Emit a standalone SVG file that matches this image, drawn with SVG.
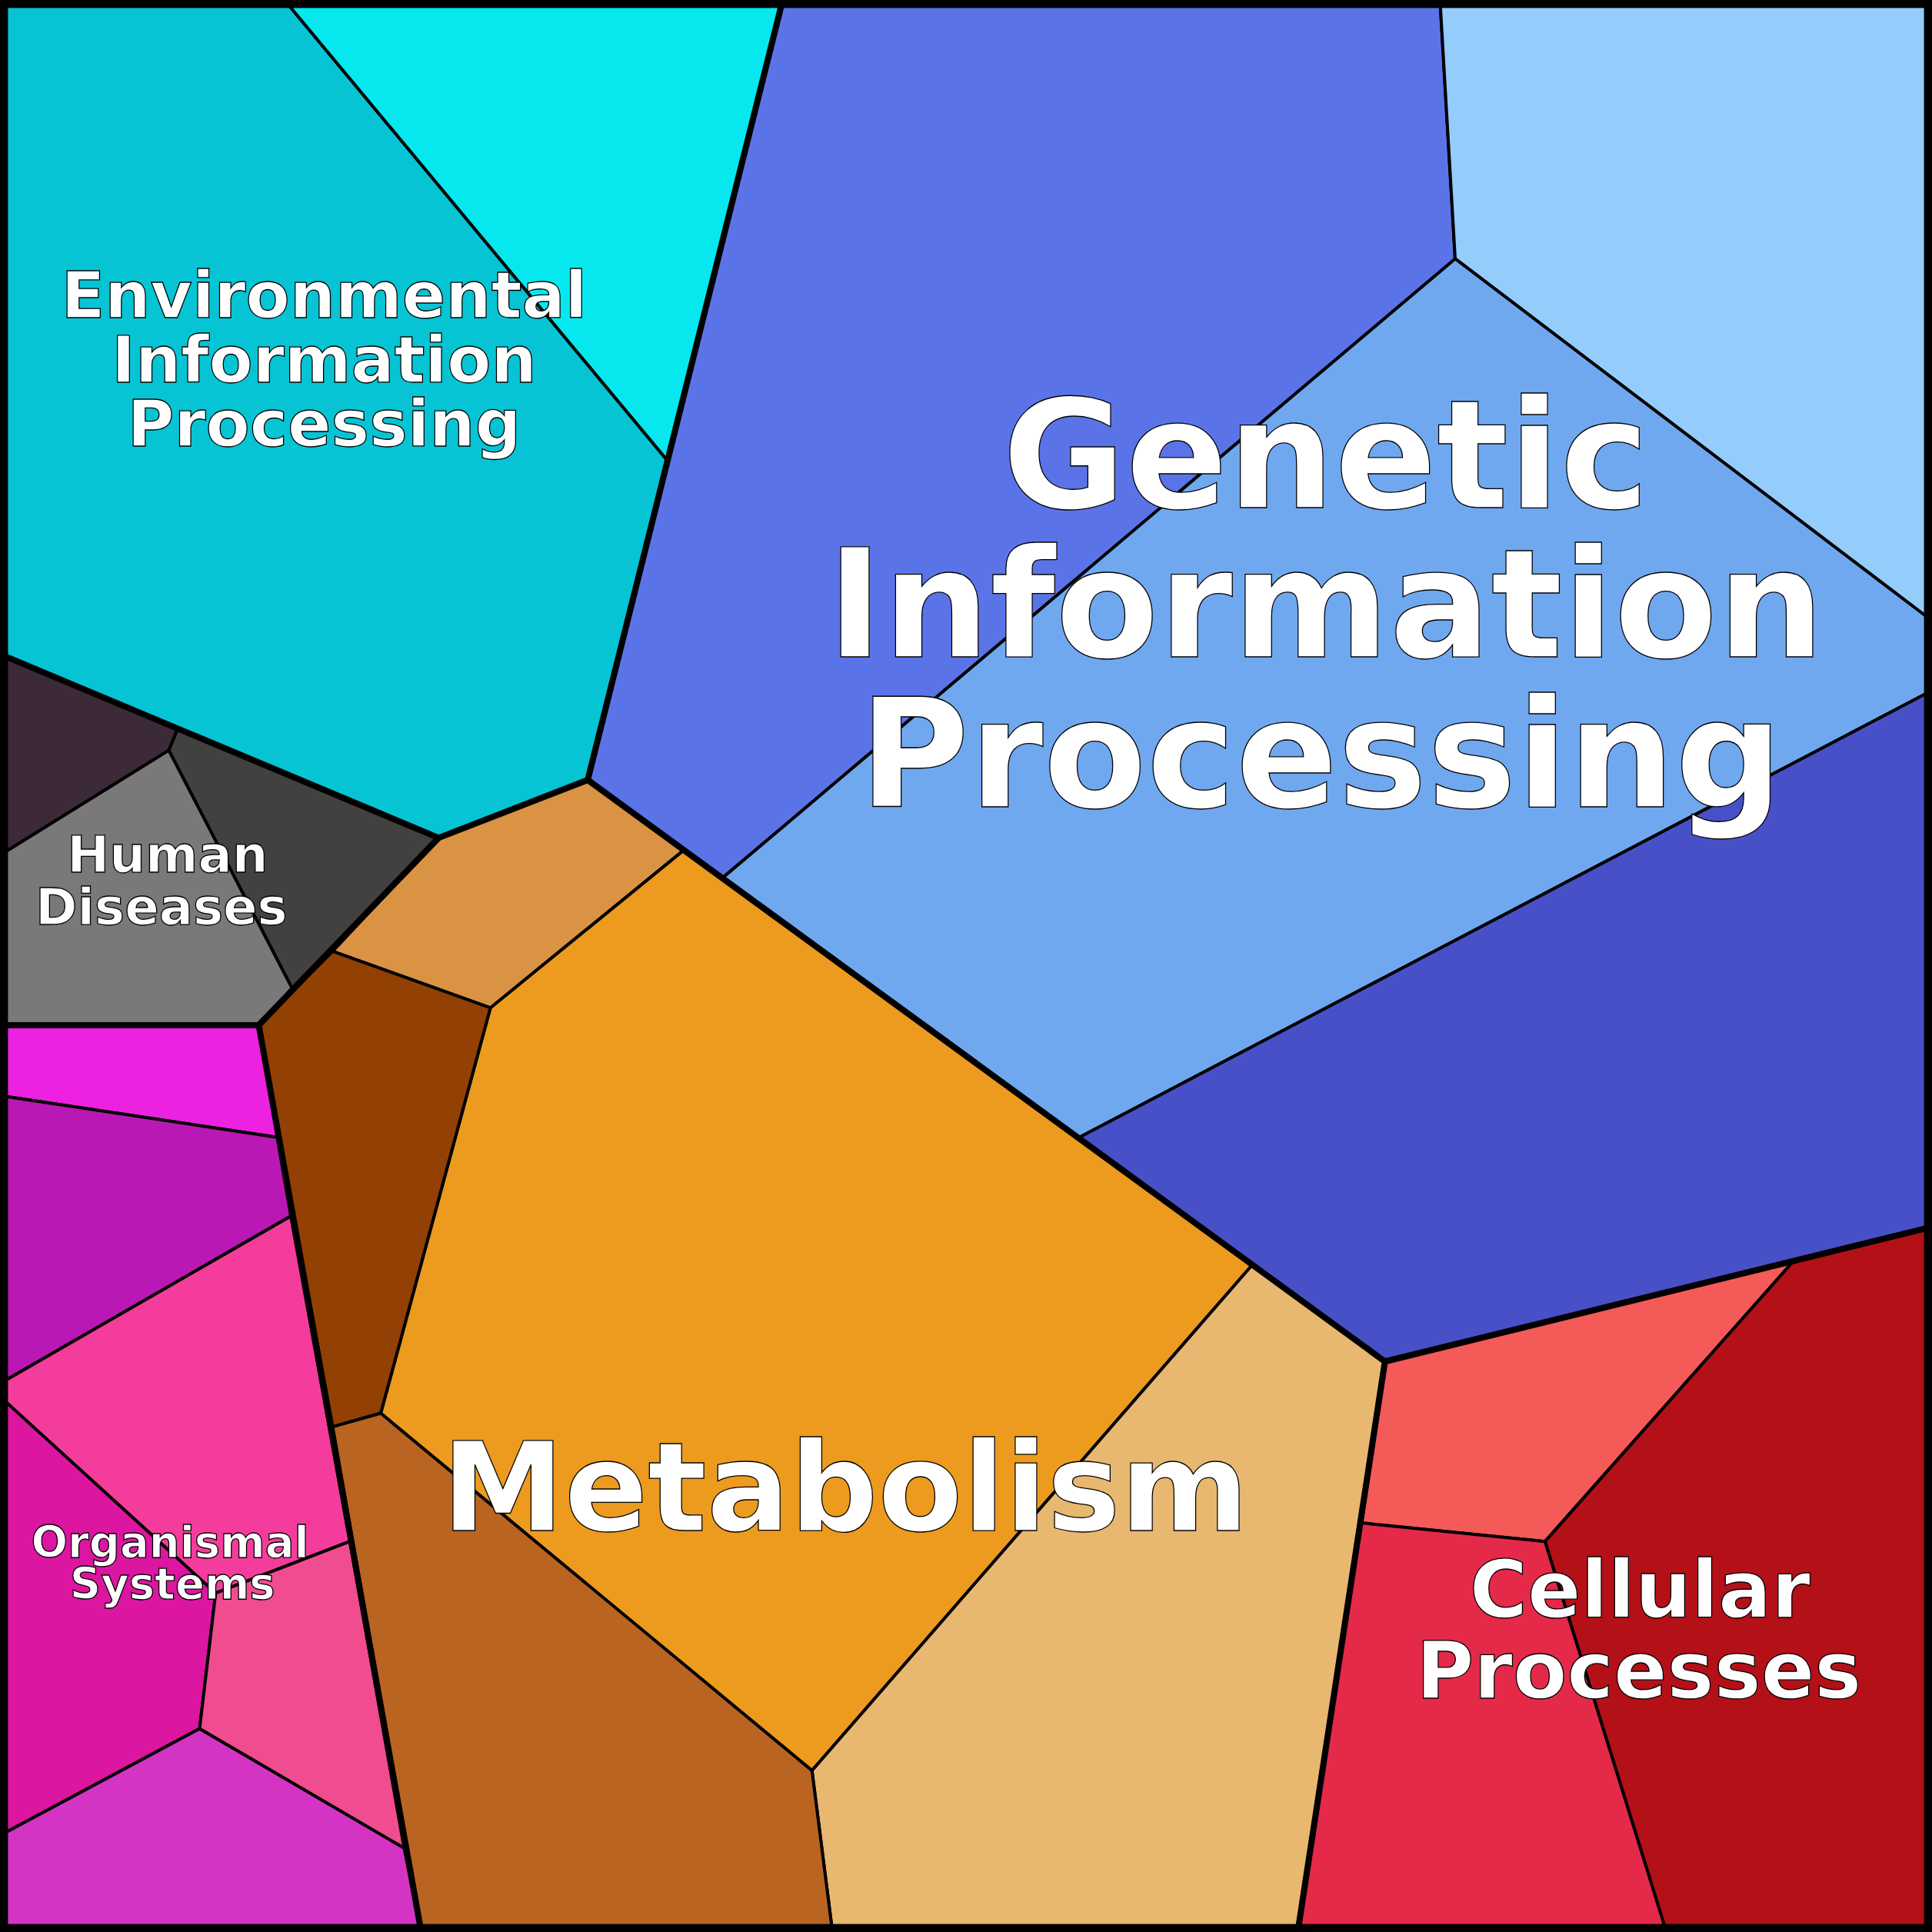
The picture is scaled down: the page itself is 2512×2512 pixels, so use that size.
<svg xmlns="http://www.w3.org/2000/svg" width="2512" height="2512" viewBox="0 0 2512 2512">
<style>
.c{stroke:#000;stroke-width:2.5;stroke-linejoin:round}
.t{font-family:"DejaVu Sans",sans-serif;font-weight:bold;fill:#fff;stroke:#000;stroke-width:0.8;text-anchor:middle}
.b{fill:none;stroke:#000;stroke-width:5;stroke-linejoin:round}
</style>
<g transform="scale(1.60204)">
<g id="env">
<polygon class="c" fill="#06C4D4" points="5,5 235,5 541,373 477,633 356,680 5,533"/>
<polygon class="c" fill="#06E8EE" points="235,5 634,5 541,373"/>
</g>
<g id="genetic">
<polygon class="c" fill="#5A74E8" points="634,5 1169,5 1181,210 587,712 477,633 541,373"/>
<polygon class="c" fill="#94CCFC" points="1169,5 1563,5 1563,500 1181,210"/>
<polygon class="c" fill="#70A8F0" points="1181,210 1563,500 1563,563 876,923 587,712"/>
<polygon class="c" fill="#4850C8" points="1563,563 1563,997 1124,1105 1016,1027 876,923"/>
</g>
<g id="metabolism">
<polygon class="c" fill="#DA9342" points="477,633 555,690 398,818 270,772 356,680"/>
<polygon class="c" fill="#EC9B1F" points="555,690 1016,1027 659,1437 309,1147 398,818"/>
<polygon class="c" fill="#924004" points="270,772 398,818 309,1147 270,1158 210,832"/>
<polygon class="c" fill="#E8B870" points="1016,1027 1124,1105 1054,1563 675,1563 659,1437"/>
<polygon class="c" fill="#BA6422" points="270,1158 309,1147 659,1437 675,1563 341,1563"/>
</g>
<g id="human">
<polygon class="c" fill="#3C2A38" points="5,533 144,592 137,609 5,691"/>
<polygon class="c" fill="#434040" points="144,592 356,680 237,802 137,609"/>
<polygon class="c" fill="#7A7878" points="5,691 137,609 237,802 210,832 5,832"/>
</g>
<g id="organismal">
<polygon class="c" fill="#EC22E0" points="5,832 210,832 225,923 5,890"/>
<polygon class="c" fill="#BA18B4" points="5,890 225,923 236,987 5,1120"/>
<polygon class="c" fill="#F43C9C" points="5,1120 236,987 284,1251 175,1293 5,1138"/>
<polygon class="c" fill="#DC16A0" points="5,1138 175,1293 162,1403 5,1487"/>
<polygon class="c" fill="#F04C90" points="175,1293 284,1251 328,1500 162,1403"/>
<polygon class="c" fill="#D434C4" points="5,1487 162,1403 328,1500 341,1563 5,1563"/>
</g>
<g id="cellular">
<polygon class="c" fill="#F45A58" points="1124,1105 1456,1023 1254,1251 1105,1236"/>
<polygon class="c" fill="#E42A48" points="1105,1236 1254,1251 1351,1563 1054,1563"/>
<polygon class="c" fill="#B41018" points="1456,1023 1563,997 1563,1563 1351,1563 1254,1251"/>
</g>
<g id="borders">
<polyline class="b" points="5,533 356,680 477,633 634,5"/>
<polyline class="b" points="477,633 1124,1105 1563,997"/>
<polyline class="b" points="1124,1105 1054,1563"/>
<polyline class="b" points="356,680 210,832 341,1563"/>
<polyline class="b" points="5,832 210,832"/>
<rect x="3" y="3" width="1562" height="1562" fill="none" stroke="#000" stroke-width="7"/>
</g>
<g id="labels">
<text class="t" font-size="52" x="263" y="258">Environmental</text>
<text class="t" font-size="52" x="263" y="310">Information</text>
<text class="t" font-size="52" x="263" y="362">Processing</text>
<text class="t" font-size="122" x="1076" y="412">Genetic</text>
<text class="t" font-size="122" x="1076" y="533">Information</text>
<text class="t" font-size="122" x="1072" y="655">Processing</text>
<text class="t" font-size="100" x="686" y="1242">Metabolism</text>
<text class="t" font-size="41" x="136" y="708">Human</text>
<text class="t" font-size="41" x="131" y="750">Diseases</text>
<text class="t" font-size="35" x="138" y="1264">Organismal</text>
<text class="t" font-size="35" x="140" y="1298">Systems</text>
<text class="t" font-size="64" x="1331" y="1313">Cellular</text>
<text class="t" font-size="64" x="1330" y="1378">Processes</text>
</g>
</g>
</svg>
